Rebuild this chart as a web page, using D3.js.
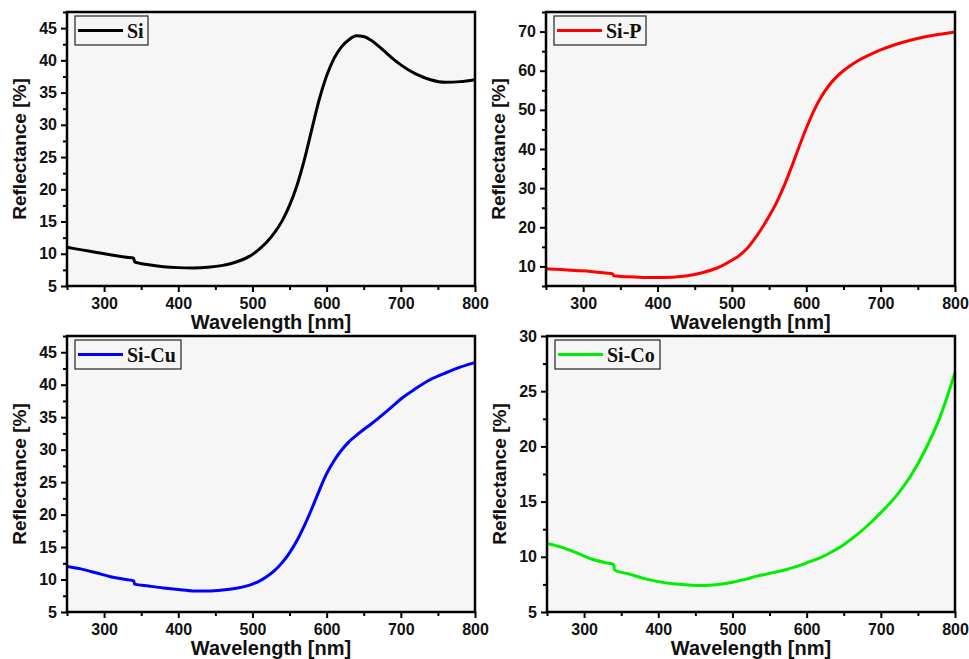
<!DOCTYPE html>
<html>
<head>
<meta charset="utf-8">
<script src="https://cdn.jsdelivr.net/npm/d3@7"></script>
<style>
  html, body { margin: 0; padding: 0; background: #ffffff; }
  svg { display: block; }
</style>
</head>
<body>
<svg id="chart" width="969" height="659"></svg>
<script>
// Wavelength grid (nm) shared by all four reflectance spectra
const wavelength = [250, 270, 290, 310, 330, 340, 341, 360, 380, 400, 420, 440, 460, 480, 500, 510, 520, 530, 540, 550,
                    560, 570, 580, 590, 600, 610, 620, 630, 640, 650, 660, 670, 680, 690, 700, 720, 740, 760, 780, 800];

// Reflectance [%] for each sample
const reflSi   = [11.0, 10.6, 10.2, 9.8, 9.45, 9.3, 8.75, 8.3, 8.0, 7.85, 7.8, 7.9, 8.2, 8.8, 9.9, 10.8, 11.9, 13.3, 15.1, 17.5,
                  20.6, 24.6, 29.3, 33.9, 37.6, 40.3, 42.1, 43.2, 43.8, 43.7, 43.1, 42.2, 41.2, 40.2, 39.3, 37.9, 37.0, 36.6, 36.7, 37.0];
const reflSiP  = [9.4, 9.2, 8.95, 8.7, 8.3, 8.1, 7.6, 7.35, 7.2, 7.15, 7.25, 7.6, 8.4, 9.6, 11.6, 12.8, 14.5, 16.9, 19.7, 22.8,
                  26.3, 30.5, 35.3, 40.4, 45.3, 49.7, 53.3, 56.1, 58.3, 60.0, 61.4, 62.6, 63.6, 64.5, 65.3, 66.7, 67.8, 68.7, 69.3, 69.9];
const reflSiCu = [12.0, 11.6, 11.0, 10.4, 10.0, 9.8, 9.3, 9.0, 8.7, 8.45, 8.25, 8.25, 8.4, 8.7, 9.3, 9.8, 10.5, 11.4, 12.6, 14.1,
                  16.0, 18.3, 20.9, 23.7, 26.3, 28.3, 29.9, 31.2, 32.2, 33.1, 33.95, 34.85, 35.8, 36.8, 37.8, 39.4, 40.8, 41.8, 42.7, 43.4];
const reflSiCo = [11.2, 10.85, 10.35, 9.8, 9.45, 9.3, 8.8, 8.45, 8.05, 7.75, 7.55, 7.45, 7.4, 7.5, 7.7, 7.85, 8.0, 8.2, 8.35, 8.5,
                  8.65, 8.8, 9.0, 9.2, 9.45, 9.7, 9.98, 10.3, 10.68, 11.1, 11.6, 12.12, 12.7, 13.33, 14.0, 15.45, 17.3, 19.7, 22.7, 26.7];

// Axis settings
const xTicks = [300, 400, 500, 600, 700, 800];
const xMinor = [250, 350, 450, 550, 650, 750];
const xDomain = [250, 800];

const panels = [
  { name: "Si",    values: reflSi,   color: "#000000", yDomain: [5, 47.5],
    yTicks: [5, 10, 15, 20, 25, 30, 35, 40, 45], yMinor: [7.5, 12.5, 17.5, 22.5, 27.5, 32.5, 37.5, 42.5, 47.5],
    box: { left: 67, right: 475, top: 12, bottom: 286 }, legendW: 73 },
  { name: "Si-P",  values: reflSiP,  color: "#ff0000", yDomain: [5, 75],
    yTicks: [10, 20, 30, 40, 50, 60, 70], yMinor: [5, 15, 25, 35, 45, 55, 65, 75],
    box: { left: 546, right: 955, top: 12, bottom: 286 }, legendW: 92 },
  { name: "Si-Cu", values: reflSiCu, color: "#0000ff", yDomain: [5, 47.5],
    yTicks: [5, 10, 15, 20, 25, 30, 35, 40, 45], yMinor: [7.5, 12.5, 17.5, 22.5, 27.5, 32.5, 37.5, 42.5, 47.5],
    box: { left: 67, right: 475, top: 336, bottom: 612 }, legendW: 106 },
  { name: "Si-Co", values: reflSiCo, color: "#00ee00", yDomain: [5, 30],
    yTicks: [5, 10, 15, 20, 25, 30], yMinor: [7.5, 12.5, 17.5, 22.5, 27.5],
    box: { left: 547, right: 955, top: 336, bottom: 612 }, legendW: 105 }
];

const svg = d3.select("#chart");
const sansBold = "'Liberation Sans', Arial, sans-serif";
const serifBold = "'Liberation Serif', 'Times New Roman', serif";

panels.forEach(p => {
  const b = p.box;
  const x = d3.scaleLinear().domain(xDomain).range([b.left, b.right]);
  const y = d3.scaleLinear().domain(p.yDomain).range([b.bottom, b.top]);
  const g = svg.append("g");

  // plot area background
  g.append("rect")
    .attr("x", b.left).attr("y", b.top)
    .attr("width", b.right - b.left).attr("height", b.bottom - b.top)
    .attr("fill", "#f6f6f6");

  // minor ticks
  g.append("g")
    .attr("transform", `translate(0,${b.bottom})`)
    .call(d3.axisBottom(x).tickValues(xMinor).tickSize(4).tickFormat(""))
    .call(s => s.select(".domain").remove())
    .call(s => s.selectAll("line").attr("stroke", "#000").attr("stroke-width", 2));
  g.append("g")
    .attr("transform", `translate(${b.left},0)`)
    .call(d3.axisLeft(y).tickValues(p.yMinor).tickSize(4).tickFormat(""))
    .call(s => s.select(".domain").remove())
    .call(s => s.selectAll("line").attr("stroke", "#000").attr("stroke-width", 2));

  // major ticks and labels
  g.append("g")
    .attr("transform", `translate(0,${b.bottom})`)
    .call(d3.axisBottom(x).tickValues(xTicks).tickSize(6).tickPadding(6).tickFormat(d3.format("d")))
    .call(s => s.select(".domain").remove())
    .call(s => s.selectAll("line").attr("stroke", "#000").attr("stroke-width", 2))
    .call(s => s.selectAll("text")
      .attr("font-family", sansBold).attr("font-weight", "bold")
      .attr("font-size", 16).attr("fill", "#111"));
  g.append("g")
    .attr("transform", `translate(${b.left},0)`)
    .call(d3.axisLeft(y).tickValues(p.yTicks).tickSize(6).tickPadding(4).tickFormat(d3.format("d")))
    .call(s => s.select(".domain").remove())
    .call(s => s.selectAll("line").attr("stroke", "#000").attr("stroke-width", 2))
    .call(s => s.selectAll("text")
      .attr("font-family", sansBold).attr("font-weight", "bold")
      .attr("font-size", 16).attr("fill", "#111"));

  // spectrum
  const line = d3.line()
    .x((d, i) => x(wavelength[i]))
    .y(d => y(d))
    .curve(d3.curveMonotoneX);
  g.append("path")
    .datum(p.values)
    .attr("d", line)
    .attr("fill", "none")
    .attr("stroke", p.color)
    .attr("stroke-width", 3)
    .attr("stroke-linejoin", "round");

  // frame
  g.append("rect")
    .attr("x", b.left).attr("y", b.top)
    .attr("width", b.right - b.left).attr("height", b.bottom - b.top)
    .attr("fill", "none").attr("stroke", "#000").attr("stroke-width", 2.5);

  // legend
  const lx = b.left + 8, ly = b.top + 4, lh = 29;
  g.append("rect")
    .attr("x", lx).attr("y", ly).attr("width", p.legendW).attr("height", lh)
    .attr("fill", "none").attr("stroke", "#333").attr("stroke-width", 1.3);
  g.append("line")
    .attr("x1", lx + 3).attr("x2", lx + 48)
    .attr("y1", ly + lh / 2).attr("y2", ly + lh / 2)
    .attr("stroke", p.color).attr("stroke-width", 3);
  g.append("text")
    .attr("x", lx + 52).attr("y", ly + lh / 2 + 7)
    .attr("font-family", serifBold).attr("font-weight", "bold")
    .attr("font-size", 20).attr("fill", "#111")
    .text(p.name);

  // axis titles
  g.append("text")
    .attr("x", (b.left + b.right) / 2).attr("y", b.bottom + 43)
    .attr("text-anchor", "middle")
    .attr("font-family", sansBold).attr("font-weight", "bold")
    .attr("font-size", 20).attr("fill", "#111")
    .text("Wavelength [nm]");
  g.append("text")
    .attr("transform", `translate(${b.left - 41},${(b.top + b.bottom) / 2}) rotate(-90)`)
    .attr("text-anchor", "middle")
    .attr("font-family", sansBold).attr("font-weight", "bold")
    .attr("font-size", 19).attr("fill", "#111")
    .text("Reflectance [%]");
});
</script>
</body>
</html>
